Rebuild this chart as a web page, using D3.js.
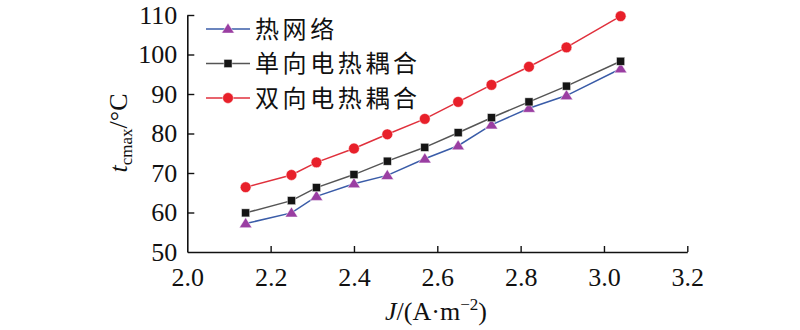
<!DOCTYPE html>
<html>
<head>
<meta charset="utf-8">
<script src="https://cdn.jsdelivr.net/npm/d3@7"></script>
<style>
  html, body { margin: 0; padding: 0; background: #fff; }
  svg { display: block; }
</style>
</head>
<body>
<svg id="chart" width="800" height="330"></svg>
<script>
// Current density J (A·m^-2)
const currentDensity = [2.14, 2.25, 2.31, 2.40, 2.48, 2.57, 2.65, 2.73, 2.82, 2.91, 3.04];
// Maximum cell temperature (°C) for each model
const thermalNetwork   = [57.2, 59.9, 64.1, 67.3, 69.4, 73.6, 76.9, 82.2, 86.4, 89.6, 96.4];
const oneWayCoupling   = [59.9, 63.0, 66.3, 69.6, 73.0, 76.5, 80.2, 84.0, 88.0, 92.0, 98.3];
const twoWayCoupling   = [66.4, 69.5, 72.7, 76.2, 79.8, 83.7, 88.0, 92.3, 96.9, 101.8, 109.7];
const seriesNames = ["热网络", "单向电热耦合", "双向电热耦合"];
const xTicks = [2.0, 2.2, 2.4, 2.6, 2.8, 3.0, 3.2];
const yTicks = [50, 60, 70, 80, 90, 100, 110];

const svg = d3.select("#chart");
const serif = "'Liberation Serif', 'Times New Roman', serif";
const cjk = "'Noto Sans CJK SC', sans-serif";

const x = d3.scaleLinear().domain([2.0, 3.2]).range([187.3, 687.3]);
const y = d3.scaleLinear().domain([50, 110]).range([252, 15]);

// Axes: ticks pointing inward, serif labels
const xAxis = svg.append("g").attr("transform", `translate(0,${y(50)})`)
  .call(d3.axisBottom(x).tickValues(xTicks).tickFormat(d3.format(".1f"))
    .tickSizeInner(-6).tickSizeOuter(0).tickPadding(16));
const yAxis = svg.append("g").attr("transform", `translate(${x(2.0)},0)`)
  .call(d3.axisLeft(y).tickValues(yTicks).tickFormat(d3.format("d"))
    .tickSizeInner(-7).tickSizeOuter(0).tickPadding(10));

[xAxis, yAxis].forEach(g => {
  g.attr("font-family", serif).attr("font-size", 26);
  g.select(".domain").attr("stroke", "#111").attr("stroke-width", 1.6);
  g.selectAll(".tick line").attr("stroke", "#111").attr("stroke-width", 1.4);
  g.selectAll(".tick text").attr("fill", "#111")
    .style("font-family", serif).style("font-size", "26px");
});
yAxis.select(".tick:first-of-type line").remove();
xAxis.select(".tick:first-of-type line").remove();

const series = [
  { name: seriesNames[0], values: thermalNetwork, line: "#3a5ca8", fill: "#9a3ea2", shape: "triangle" },
  { name: seriesNames[1], values: oneWayCoupling, line: "#555555", fill: "#151515", shape: "square" },
  { name: seriesNames[2], values: twoWayCoupling, line: "#e0303c", fill: "#e8202a", shape: "circle" }
];

function drawMarker(g, shape, fill, cx, cy) {
  if (shape === "circle") {
    g.append("circle").attr("cx", cx).attr("cy", cy).attr("r", 5.4)
      .attr("fill", fill).attr("stroke", "#fff").attr("stroke-width", 0.5);
  } else if (shape === "square") {
    g.append("rect").attr("x", cx - 4).attr("y", cy - 4).attr("width", 8).attr("height", 8)
      .attr("fill", fill).attr("stroke", "#ddd").attr("stroke-width", 0.5);
  } else {
    const s = 6.3;
    g.append("path")
      .attr("d", `M${cx},${cy - s * 0.95} L${cx + s},${cy + s * 0.65} L${cx - s},${cy + s * 0.65} Z`)
      .attr("fill", fill).attr("stroke", "#fff").attr("stroke-width", 0.5);
  }
}

const line = d3.line().x(d => x(d[0])).y(d => y(d[1]));
series.forEach(s => {
  const pts = currentDensity.map((j, i) => [j, s.values[i]]);
  const g = svg.append("g");
  g.append("path").datum(pts).attr("d", line)
    .attr("fill", "none").attr("stroke", s.line).attr("stroke-width", 1.5);
  pts.forEach(p => drawMarker(g, s.shape, s.fill, x(p[0]), y(p[1])));
});

// Legend
const legendRows = [29, 63.5, 98];
series.forEach((s, i) => {
  const g = svg.append("g");
  const ly = legendRows[i];
  g.append("line").attr("x1", 206).attr("x2", 250).attr("y1", ly).attr("y2", ly)
    .attr("stroke", s.line).attr("stroke-width", 1.5);
  drawMarker(g, s.shape, s.fill, 228, ly);
  g.append("text").attr("x", 255).attr("y", ly).attr("dy", "0.36em")
    .style("font-family", cjk).style("font-size", "24px").style("letter-spacing", "3.6px")
    .attr("fill", "#111")
    .text(s.name);
});

// Axis titles
const yTitle = svg.append("text")
  .attr("transform", "translate(127,133) rotate(-90)")
  .attr("text-anchor", "middle")
  .style("font-family", serif).style("font-size", "26px").attr("fill", "#111");
yTitle.append("tspan").style("font-style", "italic").text("t");
yTitle.append("tspan").attr("dy", 5).style("font-size", "17px").text("cmax");
yTitle.append("tspan").attr("dy", -5).text("/°C");

const xTitle = svg.append("text")
  .attr("x", 436).attr("y", 320).attr("text-anchor", "middle")
  .style("font-family", serif).style("font-size", "26px").attr("fill", "#111");
xTitle.append("tspan").style("font-style", "italic").text("J");
xTitle.append("tspan").text("/(A·m");
xTitle.append("tspan").attr("dy", -10).style("font-size", "17px").text("−2");
xTitle.append("tspan").attr("dy", 10).text(")");
</script>
</body>
</html>
